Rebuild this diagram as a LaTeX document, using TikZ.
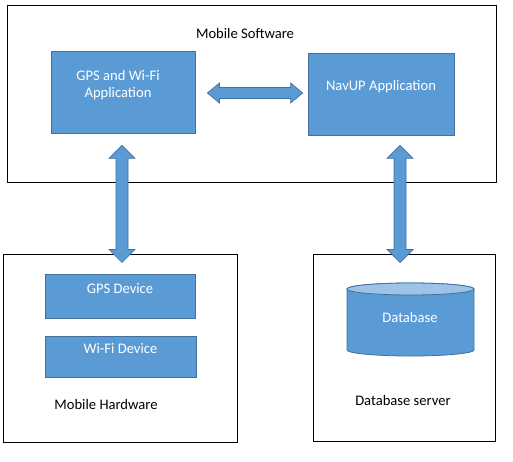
\documentclass[tikz,border=0pt]{standalone}
\usepackage{fontspec}
\setmainfont{Carlito}
\usetikzlibrary{calc}
\definecolor{boxblue}{HTML}{5B9BD5}
\definecolor{boxedge}{HTML}{41719C}
\definecolor{toplight}{HTML}{9DC3E6}
\tikzset{
  frame/.style={draw=black, line width=1pt, fill=white},
  bluebox/.style={draw=boxedge, line width=0.8pt, fill=boxblue, text=white},
  fat/.style={draw=boxedge, line width=0.7pt, fill=boxblue},
  lbl/.style={text=black, inner sep=0pt},
  wlbl/.style={text=white, inner sep=0pt, align=center}
}
\newcommand{\arrV}[2]{%
  \draw[fat] (#1) -- ($(#1)+(13,-13)$) -- ($(#1)+(6,-13)$) -- ($(#2)+(6,13)$) -- ($(#2)+(13,13)$) -- (#2)
   -- ($(#2)+(-13,13)$) -- ($(#2)+(-6,13)$) -- ($(#1)+(-6,-13)$) -- ($(#1)+(-13,-13)$) -- cycle;}
\newcommand{\arrH}[2]{%
  \draw[fat] (#1) -- ($(#1)+(12,10)$) -- ($(#1)+(12,5.5)$) -- ($(#2)+(-12,5.5)$) -- ($(#2)+(-12,10)$) -- (#2)
   -- ($(#2)+(-12,-10)$) -- ($(#2)+(-12,-5.5)$) -- ($(#1)+(12,-5.5)$) -- ($(#1)+(12,-10)$) -- cycle;}
\begin{document}
\begin{tikzpicture}[x=1pt,y=1pt,font=\fontsize{14.6}{17}\selectfont]
\useasboundingbox (0,0) rectangle (513,461);
\fill[white] (0,0) rectangle (513,461);
% frames
\node[frame, minimum width=489pt, minimum height=177pt, inner sep=0pt] (sw) at (251.5,366.5) {};
\node[frame, minimum width=234pt, minimum height=188pt, inner sep=0pt] (hw) at (120,113) {};
\node[frame, minimum width=182pt, minimum height=187pt, inner sep=0pt] (dbs) at (404,113.5) {};
\node[lbl] (swl) at (245,428) {Mobile Software};
\node[lbl] (hwl) at (106,57) {Mobile Hardware};
\node[lbl] (dbsl) at (403,61) {Database server};
% software boxes
\node[bluebox, minimum width=144pt, minimum height=82pt, inner sep=0pt] (gps) at (123,369) {};
\node[wlbl] (gpsl) at (118,376) {GPS and Wi-Fi\\Application};
\node[bluebox, minimum width=146pt, minimum height=82pt, inner sep=0pt] (nav) at (381,367) {};
\node[wlbl] (navl) at (381,374) {NavUP Application};
% hardware boxes
\node[bluebox, minimum width=150pt, minimum height=44pt, inner sep=0pt] (gpsd) at (120,165) {};
\node[wlbl] (gpsdl) at (120,172) {GPS Device};
\node[bluebox, minimum width=151pt, minimum height=41pt, inner sep=0pt] (wifi) at (120.5,104.5) {};
\node[wlbl] (wifil) at (120.5,112) {Wi-Fi Device};
% database cylinder
\coordinate (cyl) at (410.5,141.5);
\draw[draw=boxedge, line width=0.8pt, fill=boxblue] ($(cyl)+(-63.5,30.5)$) -- ($(cyl)+(-63.5,-30.5)$)
  arc[start angle=180, end angle=360, x radius=63.5, y radius=6] -- ($(cyl)+(63.5,30.5)$)
  arc[start angle=0, end angle=180, x radius=63.5, y radius=6] -- cycle;
\draw[draw=boxedge, line width=0.8pt, fill=toplight] ($(cyl)+(0,30.5)$) ellipse[x radius=63.5, y radius=6];
\node[wlbl] (dbl) at (410,144) {Database};
% arrows
\coordinate (h1a) at ($(gps.east)+(12,-1)$);
\coordinate (h1b) at ($(nav.west)+(-5,1)$);
\arrH{h1a}{h1b}
\coordinate (v1a) at ($(gps.south)+(-1,-12)$);
\coordinate (v1b) at ($(hw.north)+(2,-9)$);
\arrV{v1a}{v1b}
\coordinate (v2a) at ($(nav.south)+(19,-10)$);
\coordinate (v2b) at ($(dbs.north)+(-4,-9)$);
\arrV{v2a}{v2b}
\end{tikzpicture}
\end{document}
